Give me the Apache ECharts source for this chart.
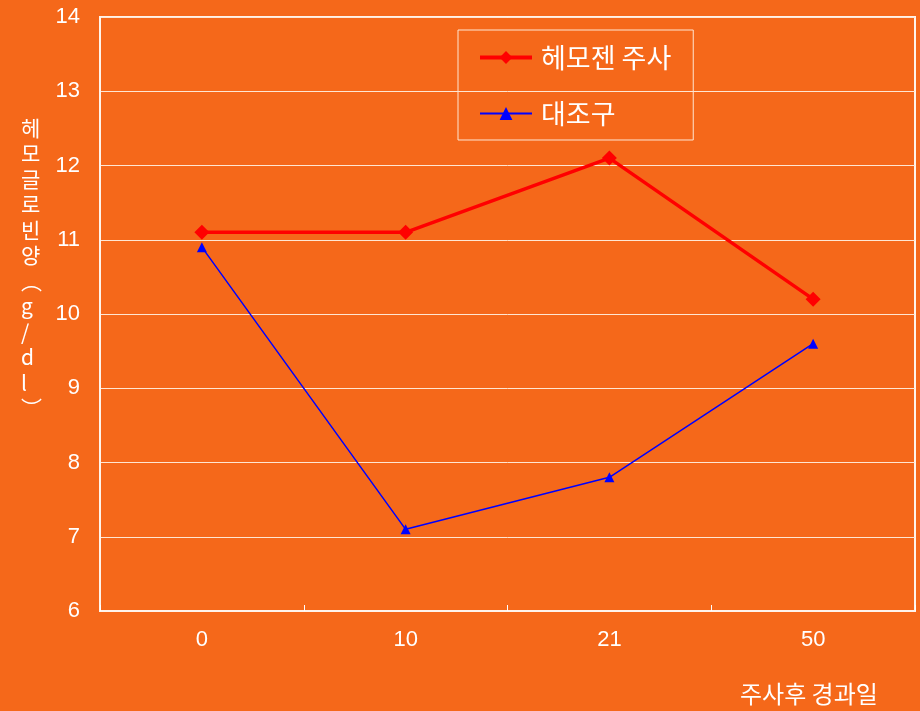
<!DOCTYPE html>
<html><head><meta charset="utf-8">
<script src="https://cdn.jsdelivr.net/npm/echarts@6/dist/echarts.min.js"></script>
<style>html,body{margin:0;padding:0;background:#F5681A;}#c{width:920px;height:711px;}</style>
</head><body><div id="c"></div>
<script>
const categories = ['0', '10', '21', '50'];
const hemogen = [11.1, 11.1, 12.1, 10.2];
const control = [10.9, 7.1, 7.8, 9.6];
const seriesNames = ['헤모젠 주사', '대조구'];
const yAxisTitleChars = ['헤','모','글','로','빈','양','︵','g','/','d','l','︶'];
const xAxisTitle = '주사후 경과일';

const chart = echarts.init(document.getElementById('c'));
const numFont = '"Liberation Sans", Arial, sans-serif';
const krFont = '"Noto Sans CJK KR", "Liberation Sans", sans-serif';
chart.setOption({
  backgroundColor: '#F5681A',
  animation: false,
  grid: { left: 100, right: 5, top: 17, bottom: 100, show: true, borderColor: '#FFF3EA', borderWidth: 2, backgroundColor: 'transparent' },
  legend: {
    orient: 'vertical', left: 458, top: 30,
    padding: [14, 22, 13, 20], itemGap: 29,
    itemWidth: 52, itemHeight: 16,
    borderColor: '#FFE6D2', borderWidth: 1,
    textStyle: { color: '#fff', fontSize: 27, fontFamily: krFont, padding: [0, 0, 0, 4] },
    data: [
      { name: seriesNames[0], lineStyle: { width: 4 } },
      { name: seriesNames[1], lineStyle: { width: 2 } }
    ]
  },
  xAxis: {
    type: 'category', data: categories, boundaryGap: true,
    axisLine: { lineStyle: { color: '#FFF3EA', width: 2 } },
    axisTick: { show: true, inside: true, length: 6, lineStyle: { color: '#fff', width: 1 } },
    axisLabel: { color: '#fff', fontSize: 22, fontFamily: numFont, margin: 18 },
    splitLine: { show: false }
  },
  yAxis: {
    type: 'value', min: 6, max: 14, interval: 1,
    axisLine: { show: true, lineStyle: { color: '#FFF3EA', width: 2 } },
    axisTick: { show: false },
    axisLabel: { color: '#fff', fontSize: 22, fontFamily: numFont, margin: 20 },
    splitLine: { lineStyle: { color: '#FFE6D2', width: 1 } }
  },
  graphic: [
    { type: 'text', left: 21, top: 115, style: { text: yAxisTitleChars.join('\n'), fill: '#fff', font: '21px ' + krFont, lineHeight: 25.5, align: 'center' } },
    { type: 'text', left: 740, top: 682, style: { text: xAxisTitle, fill: '#fff', font: '24px ' + krFont } }
  ],
  series: [
    { name: seriesNames[0], type: 'line', data: hemogen, symbol: 'diamond', symbolSize: 15,
      lineStyle: { color: '#FF0000', width: 3.5 }, itemStyle: { color: '#FF0000' } },
    { name: seriesNames[1], type: 'line', data: control, symbol: 'triangle', symbolSize: 10,
      lineStyle: { color: '#0000FF', width: 1.5 }, itemStyle: { color: '#0000FF' } }
  ]
});
</script></body></html>
